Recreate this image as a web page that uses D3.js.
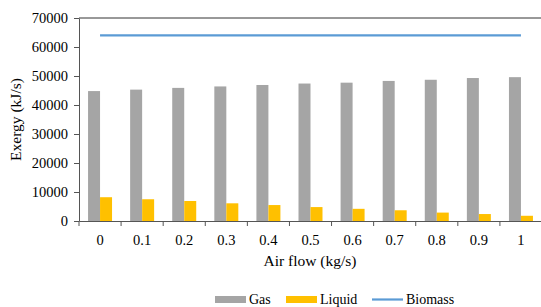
<!DOCTYPE html>
<html>
<head>
<meta charset="utf-8">
<script src="https://cdn.jsdelivr.net/npm/d3@7"></script>
<style>
  body { margin: 0; background: #fff; }
  svg text { font-family: "Liberation Serif", "Times New Roman", Tinos, "DejaVu Serif", serif !important; }
</style>
</head>
<body>
<div id="chart"></div>
<script>
// data
const airFlow = ["0", "0.1", "0.2", "0.3", "0.4", "0.5", "0.6", "0.7", "0.8", "0.9", "1"];
const gasExergy = [44800, 45300, 45900, 46400, 46900, 47400, 47700, 48300, 48700, 49300, 49600];
const liquidExergy = [8200, 7500, 6900, 6100, 5500, 4800, 4200, 3700, 2900, 2400, 1800];
const biomassExergy = [64000, 64000, 64000, 64000, 64000, 64000, 64000, 64000, 64000, 64000, 64000];
const yTicks = [0, 10000, 20000, 30000, 40000, 50000, 60000, 70000];

const W = 541, H = 307;
const mLeft = 79, mRight = 542, mTop = 18, mBottom = 221;

const svg = d3.select("#chart").append("svg")
    .attr("width", W)
    .attr("height", H)
    .style("display", "block");

const x = d3.scaleBand()
    .domain(airFlow)
    .range([mLeft, mRight]);

const y = d3.scaleLinear()
    .domain([0, 70000])
    .range([mBottom, mTop]);

const barW = x.bandwidth() * 0.285;

// top border line
svg.append("line")
    .attr("x1", mLeft).attr("x2", mRight)
    .attr("y1", y(70000)).attr("y2", y(70000))
    .attr("stroke", "#333").attr("stroke-width", 1);

// bars
svg.selectAll("rect.gas")
    .data(gasExergy)
    .enter().append("rect")
    .attr("class", "gas")
    .attr("x", (d, i) => x(airFlow[i]) + x.bandwidth() / 2 - barW)
    .attr("y", d => y(d))
    .attr("width", barW)
    .attr("height", d => y(0) - y(d))
    .attr("fill", "#a5a5a5");

svg.selectAll("rect.liquid")
    .data(liquidExergy)
    .enter().append("rect")
    .attr("class", "liquid")
    .attr("x", (d, i) => x(airFlow[i]) + x.bandwidth() / 2)
    .attr("y", d => y(d))
    .attr("width", barW)
    .attr("height", d => y(0) - y(d))
    .attr("fill", "#ffc000");

// biomass line
const line = d3.line()
    .x((d, i) => x(airFlow[i]) + x.bandwidth() / 2)
    .y(d => y(d));

svg.append("path")
    .datum(biomassExergy)
    .attr("d", line)
    .attr("fill", "none")
    .attr("stroke", "#5b9bd5")
    .attr("stroke-width", 2.2);

// axes
const yAxis = svg.append("g")
    .attr("transform", `translate(${mLeft},0)`)
    .call(d3.axisLeft(y).tickValues(yTicks).tickFormat(d => d).tickSizeInner(5).tickSizeOuter(0).tickPadding(6));

const xAxis = svg.append("g")
    .attr("transform", `translate(0,${mBottom})`)
    .call(d3.axisBottom(x).tickSize(0).tickPadding(14));

// category boundary ticks
svg.selectAll("line.xtick")
    .data(airFlow.concat(["end"]))
    .enter().append("line")
    .attr("class", "xtick")
    .attr("x1", (d, i) => mLeft + i * x.bandwidth())
    .attr("x2", (d, i) => mLeft + i * x.bandwidth())
    .attr("y1", mBottom).attr("y2", mBottom + 5)
    .attr("stroke", "#555");

[yAxis, xAxis].forEach(g => {
    g.attr("font-family", null);
    g.selectAll("path.domain").attr("stroke", "#555");
    g.selectAll(".tick line").attr("stroke", "#555");
    g.selectAll("text")
        .attr("font-size", 14.5)
        .attr("fill", "#000");
});

// axis titles
svg.append("text")
    .attr("transform", `translate(21,${(mTop + mBottom) / 2}) rotate(-90)`)
    .attr("text-anchor", "middle")
    .attr("font-size", 15.5)
    .text("Exergy (kJ/s)");

svg.append("text")
    .attr("x", (mLeft + 541) / 2)
    .attr("y", 266)
    .attr("text-anchor", "middle")
    .attr("font-size", 15.5)
    .text("Air flow (kg/s)");

// legend
const legend = svg.append("g").attr("font-size", 14);
const items = [
    { name: "Gas", color: "#a5a5a5", type: "rect", x: 215 },
    { name: "Liquid", color: "#ffc000", type: "rect", x: 286 },
    { name: "Biomass", color: "#5b9bd5", type: "line", x: 372 }
];
items.forEach(it => {
    if (it.type === "rect") {
        legend.append("rect")
            .attr("x", it.x).attr("y", 296)
            .attr("width", 31).attr("height", 7)
            .attr("fill", it.color);
    } else {
        legend.append("line")
            .attr("x1", it.x).attr("x2", it.x + 31)
            .attr("y1", 299.5).attr("y2", 299.5)
            .attr("stroke", it.color).attr("stroke-width", 2.2);
    }
    legend.append("text")
        .attr("x", it.x + 34)
        .attr("y", 304)
        .text(it.name);
});
</script>
</body>
</html>
